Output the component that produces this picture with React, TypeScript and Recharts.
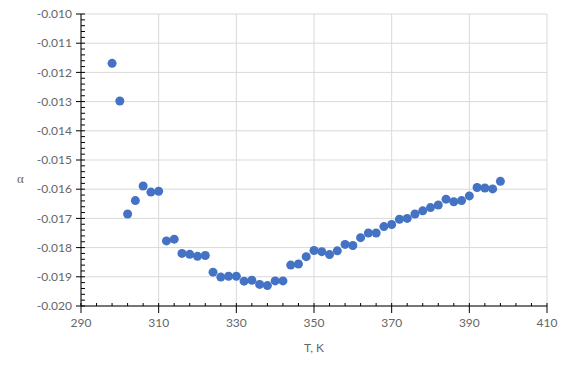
import {
  ScatterChart,
  Scatter,
  XAxis,
  YAxis,
  CartesianGrid,
} from "recharts";

// temperature, K
const temps = [
  298, 300, 302, 304, 306, 308, 310, 312, 314, 316, 318, 320, 322, 324, 326,
  328, 330, 332, 334, 336, 338, 340, 342, 344, 346, 348, 350, 352, 354, 356,
  358, 360, 362, 364, 366, 368, 370, 372, 374, 376, 378, 380, 382, 384, 386,
  388, 390, 392, 394, 396, 398,
];

const alpha = [
  -0.01169, -0.01298, -0.01685, -0.01639, -0.01589, -0.0161, -0.01607,
  -0.01777, -0.01771, -0.0182, -0.01823, -0.0183, -0.01827, -0.01884,
  -0.01901, -0.01898, -0.01898, -0.01915, -0.01912, -0.01926, -0.0193,
  -0.01914, -0.01914, -0.0186, -0.01856, -0.01831, -0.0181, -0.01814,
  -0.01824, -0.01811, -0.01789, -0.01793, -0.01766, -0.0175, -0.0175,
  -0.01728, -0.01721, -0.01703, -0.017, -0.01685, -0.01674, -0.01663,
  -0.01654, -0.01634, -0.01643, -0.01639, -0.01623, -0.01594, -0.01596,
  -0.01599, -0.01573,
];

const xTicks = [290, 310, 330, 350, 370, 390, 410];
const yTicks = [-0.02, -0.019, -0.018, -0.017, -0.016, -0.015, -0.014, -0.013, -0.012, -0.011, -0.01];

// minor tick positions (every 4 K, every 0.0002)
const xMinor: number[] = [];
for (let t = 290; t <= 410; t += 4) xMinor.push(t);
const yMinor: number[] = [];
for (let i = 0; i <= 50; i++) yMinor.push(Number((-0.02 + i * 0.0002).toFixed(4)));

const data = temps.map((t, i) => ({ t, a: alpha[i] }));

const isMajorX = (v: number) => (v - 290) % 20 === 0;
const isMajorY = (v: number) => Math.abs(v * 1000 - Math.round(v * 1000)) < 1e-6;

const XTick = (props: any) => {
  const { x, y, payload } = props;
  const major = isMajorX(payload.value);
  return (
    <g>
      <line x1={x} x2={x} y1={y - 3} y2={major ? y + 7 : y} stroke="#000" />
      {major && (
        <text x={x} y={y + 12} dy="0.71em" textAnchor="middle" fontSize={12} fill="#666" fontFamily="Lato">
          {payload.value}
        </text>
      )}
    </g>
  );
};

const YTick = (props: any) => {
  const { x, y, payload } = props;
  const major = isMajorY(payload.value);
  return (
    <g>
      <line x1={major ? x - 5 : x} x2={x + 4} y1={y} y2={y} stroke="#000" />
      {major && (
        <text x={x - 9} y={y} dy="0.355em" textAnchor="end" fontSize={12} fill="#666" fontFamily="Lato">
          {payload.value.toFixed(3)}
        </text>
      )}
    </g>
  );
};

export default function App() {
  return (
    <div style={{ position: "fixed", left: 0, top: 0, background: "#fff" }}>
      <ScatterChart
        width={567}
        height={374}
        margin={{ top: 14, right: 20, bottom: 0, left: 0 }}
        style={{ fontFamily: "Lato" }}
      >
        <CartesianGrid
          stroke="#d9d9d9"
          strokeWidth={1}
          horizontalValues={yTicks}
          verticalValues={xTicks}
        />
        <XAxis
          type="number"
          dataKey="t"
          domain={[290, 410]}
          ticks={xMinor}
          interval={0}
          height={68}
          tickSize={0}
          tickMargin={0}
          tick={<XTick />}
          tickLine={false}
          axisLine={{ stroke: "#000" }}
          label={{ value: "T, K", position: "insideBottom", offset: 22, style: { fontSize: 12, fill: "#666", fontFamily: "Lato" } }}
        />
        <YAxis
          type="number"
          dataKey="a"
          domain={[-0.02, -0.01]}
          ticks={yMinor}
          interval={0}
          width={81}
          tickSize={0}
          tickMargin={0}
          tick={<YTick />}
          tickLine={false}
          axisLine={{ stroke: "#000" }}
          label={{ value: "α", position: "insideLeft", offset: 17, dy: 18, style: { fontSize: 13, fill: "#666", fontFamily: "Liberation Serif" } }}
        />
        <Scatter
          data={data}
          fill="#4472c4"
          isAnimationActive={false}
          shape={(p: any) => <circle cx={p.cx} cy={p.cy} r={4.5} fill="#4472c4" />}
        />
      </ScatterChart>
    </div>
  );
}
